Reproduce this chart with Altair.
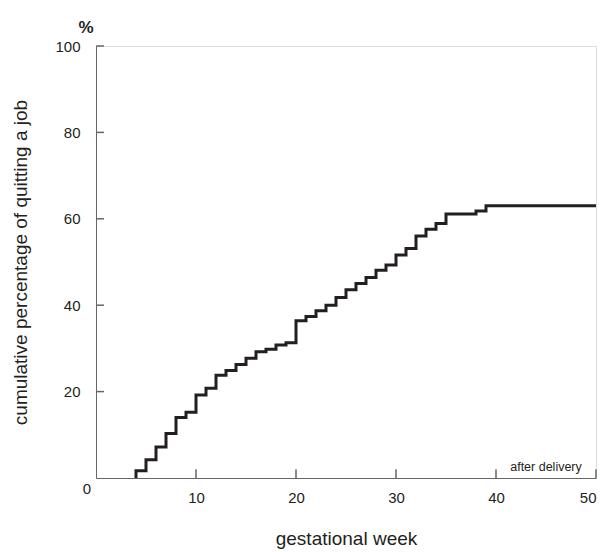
import altair as alt
import pandas as pd

weeks = [4, 4, 5, 6, 7, 8, 9, 10, 11, 12, 13, 14, 15, 16, 17, 18, 19, 20, 21, 22, 23, 24,
         25, 26, 27, 28, 29, 30, 31, 32, 33, 34, 35, 38, 39, 50]
percent = [0, 1.7, 4.2, 7.2, 10.3, 14.0, 15.2, 19.2, 20.8, 23.8, 24.9, 26.3, 27.7, 29.2, 29.8,
           30.8, 31.3, 36.4, 37.4, 38.7, 40.0, 41.8, 43.6, 45.0, 46.4, 48.1, 49.3, 51.6, 53.1,
           56.0, 57.6, 58.9, 61.1, 61.8, 63.0, 63.0]
x_ticks = [10, 20, 30, 40, 50]
y_ticks = [20, 40, 60, 80, 100]

FONT = "Liberation Sans"
TXT = "#231f20"
AX = "#666666"

df = pd.DataFrame({"week": weeks, "pct": percent})
xt = pd.DataFrame({"xv": x_ticks, "ya": [0.0] * 5, "yb": [2.0] * 5})
yt = pd.DataFrame({"yv": y_ticks, "xa": [0.0] * 5, "xb": [0.8] * 5})

xs = alt.Scale(domain=[0, 50], nice=False, zero=False)
ys = alt.Scale(domain=[0, 100], nice=False)

xaxis = alt.Axis(
    values=x_ticks, ticks=False, grid=False, domainColor=AX,
    labelFont=FONT, labelFontSize=15, labelColor=TXT, labelPadding=12,
    title="gestational week", titleFont=FONT, titleFontSize=19, titleFontWeight="normal",
    titleColor=TXT, titleY=66, titleBaseline="alphabetic")
yaxis = alt.Axis(
    values=y_ticks, ticks=False, grid=False, domainColor=AX,
    labelFont=FONT, labelFontSize=15, labelColor=TXT, labelPadding=16,
    title="cumulative percentage of quitting a job", titleFont=FONT, titleFontSize=19,
    titleFontWeight="normal", titleColor=TXT, titleX=-70, titleBaseline="alphabetic")

line = alt.Chart(df).mark_line(
    interpolate="step-after", color=TXT, strokeWidth=3, strokeCap="butt", strokeJoin="miter"
).encode(
    x=alt.X("week:Q", scale=xs, axis=xaxis),
    y=alt.Y("pct:Q", scale=ys, axis=yaxis),
)

xtick = alt.Chart(xt).mark_rule(color=AX, strokeWidth=1.5).encode(
    x=alt.X("xv:Q", scale=xs, axis=xaxis),
    y=alt.Y("ya:Q", scale=ys, axis=yaxis),
    y2=alt.Y2("yb:Q"))
ytick = alt.Chart(yt).mark_rule(color=AX, strokeWidth=1.5).encode(
    y=alt.Y("yv:Q", scale=ys, axis=yaxis),
    x=alt.X("xa:Q", scale=xs, axis=xaxis),
    x2=alt.X2("xb:Q"))

notes = pd.DataFrame({
    "x": [45, 0, 0],
    "y": [0, 0, 100],
    "t": ["after delivery", "0", "%"],
})
after = alt.Chart(notes.iloc[[0]]).mark_text(font=FONT, fontSize=12.5, color=TXT, dy=-7,
                                             baseline="alphabetic").encode(
    x=alt.X("x:Q"), y=alt.Y("y:Q"), text="t:N")
zero = alt.Chart(notes.iloc[[1]]).mark_text(font=FONT, fontSize=15, color=TXT, dx=-9, dy=11,
                                            baseline="middle").encode(
    x=alt.X("x:Q"), y=alt.Y("y:Q"), text="t:N")
pct = alt.Chart(notes.iloc[[2]]).mark_text(font=FONT, fontSize=17, fontWeight="bold", color=TXT,
                                           dx=-10, dy=-18, baseline="middle").encode(
    x=alt.X("x:Q"), y=alt.Y("y:Q"), text="t:N")

chart = alt.layer(xtick, ytick, line, after, zero, pct).properties(
    width=500, height=432,
    autosize=alt.AutoSizeParams(type="none"),
    padding={"left": 88, "top": 38, "right": 5, "bottom": 74},
).configure_view(stroke=None).configure(background="white")

chart.save("out.html", embed_options={"renderer": "svg", "actions": False})
